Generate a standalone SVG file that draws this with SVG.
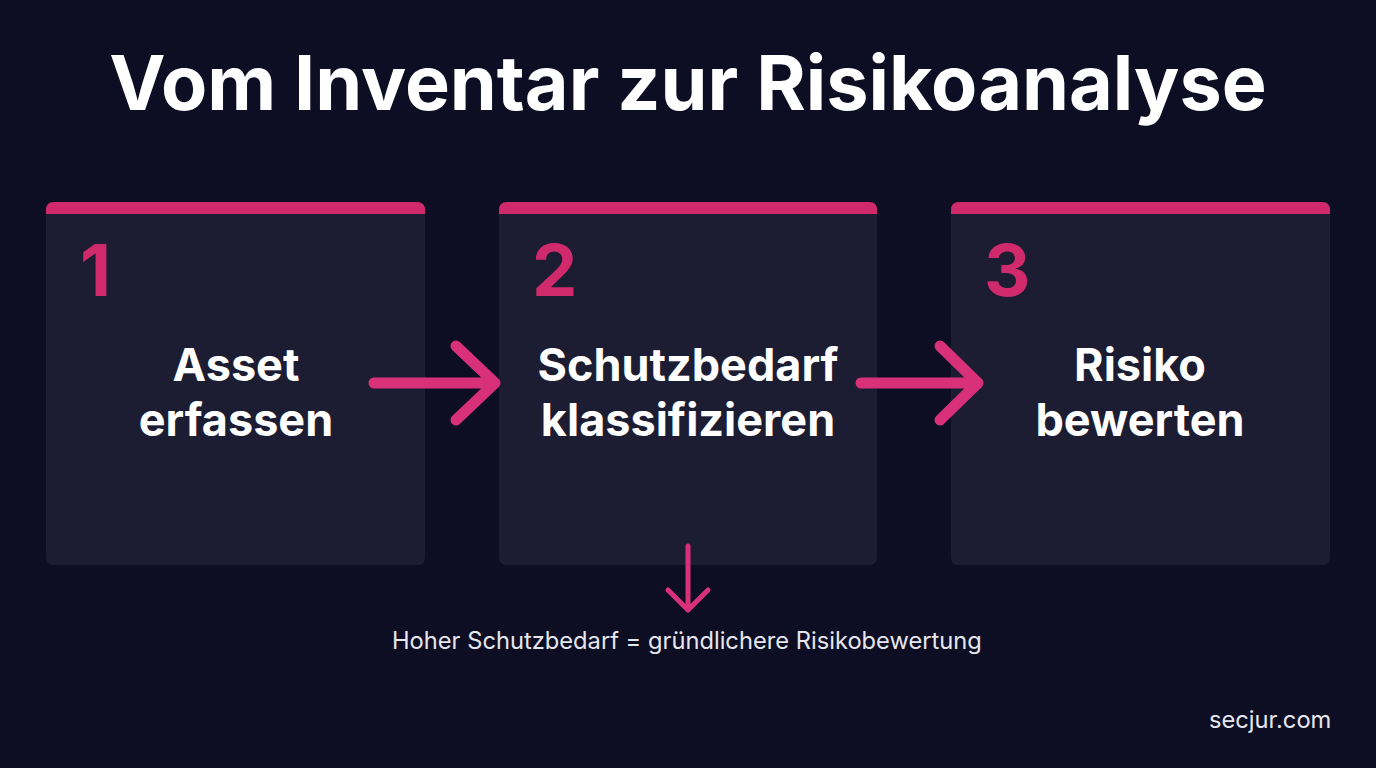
<svg xmlns="http://www.w3.org/2000/svg" width="1376" height="768" viewBox="0 0 1376 768">
<defs>
<style>
.bg{fill:#0d0e23}
.card{fill:#1c1d33}
.bar{fill:#d02a6c}
.num{font-family:Inter,"Noto Sans",sans-serif;font-weight:700;font-size:72px;fill:#d02a6c}
.lbl{font-family:Inter,"Noto Sans",sans-serif;font-weight:700;font-size:45px;fill:#ffffff;text-anchor:middle}
.title{font-family:Inter,"Noto Sans",sans-serif;font-weight:700;font-size:75.5px;fill:#ffffff;text-anchor:middle}
.note{font-family:Inter,"Noto Sans",sans-serif;font-weight:400;font-size:23.7px;fill:#e6e6ee}
.arr{fill:none;stroke:#d9307a;stroke-linecap:round;stroke-linejoin:round}
</style>
</defs>
<rect class="bg" x="0" y="0" width="1376" height="768"/>
<text class="title" x="688" y="110">Vom Inventar zur Risikoanalyse</text>
<g id="node1">
<path class="card" d="M46 210 Q46 202 54 202 L417 202 Q425 202 425 210 L425 557 Q425 565 417 565 L54 565 Q46 565 46 557 Z"/>
<path class="bar" d="M46 214 L46 210 Q46 202 54 202 L417 202 Q425 202 425 210 L425 214 Z"/>
<text class="num" x="80" y="296">1</text>
<text class="lbl" x="236" y="381">Asset</text>
<text class="lbl" x="236" y="436">erfassen</text>
</g>
<g id="node2">
<path class="card" d="M499 210 Q499 202 507 202 L869 202 Q877 202 877 210 L877 557 Q877 565 869 565 L507 565 Q499 565 499 557 Z"/>
<path class="bar" d="M499 214 L499 210 Q499 202 507 202 L869 202 Q877 202 877 210 L877 214 Z"/>
<text class="num" x="532" y="296">2</text>
<text class="lbl" x="688" y="381">Schutzbedarf</text>
<text class="lbl" x="688" y="436">klassifizieren</text>
</g>
<g id="node3">
<path class="card" d="M951 210 Q951 202 959 202 L1322 202 Q1330 202 1330 210 L1330 557 Q1330 565 1322 565 L959 565 Q951 565 951 557 Z"/>
<path class="bar" d="M951 214 L951 210 Q951 202 959 202 L1322 202 Q1330 202 1330 210 L1330 214 Z"/>
<text class="num" x="984" y="296">3</text>
<text class="lbl" x="1140" y="381">Risiko</text>
<text class="lbl" x="1140" y="436">bewerten</text>
</g>
<g id="connectors">
<path class="arr" stroke-width="11" d="M374 383 L495 383 M456 346 L495 383 L456 420"/>
<path class="arr" stroke-width="11" d="M861 383 L978 383 M940 346 L978 383 L940 420"/>
<path class="arr" stroke-width="5" d="M688 546 L688 610 M668 590 L688 610 L708 590"/>
</g>
<text class="note" x="392" y="649">Hoher Schutzbedarf = gründlichere Risikobewertung</text>
<text class="note" x="1209" y="728">secjur.com</text>
</svg>
